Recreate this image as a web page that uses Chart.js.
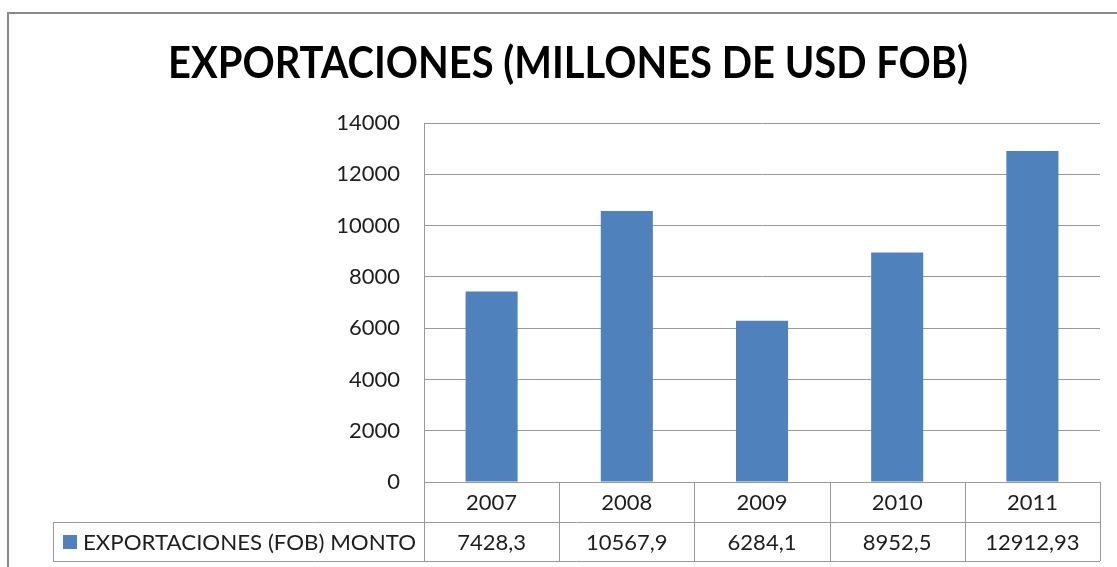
<!DOCTYPE html>
<html>
<head>
<meta charset="utf-8">
<script src="https://cdn.jsdelivr.net/npm/chart.js@4/dist/chart.umd.min.js"></script>
<style>
  html, body { margin: 0; padding: 0; background: #ffffff; }
  #wrap { position: relative; width: 1117px; height: 567px; }
</style>
</head>
<body>
<div id="wrap"><canvas id="c"></canvas></div>
<script>
const chartTitle = 'EXPORTACIONES (MILLONES DE USD FOB)';
const seriesName = 'EXPORTACIONES (FOB) MONTO';
const categories = ['2007', '2008', '2009', '2010', '2011'];
const exportValues = [7428.3, 10567.9, 6284.1, 8952.5, 12912.93];
const valueLabels = ['7428,3', '10567,9', '6284,1', '8952,5', '12912,93'];
const yTickValues = [0, 2000, 4000, 6000, 8000, 10000, 12000, 14000];

const barColor = '#4F81BD';
const lineColor = '#9a9a9a';
const textColor = '#1e1e1e';
const fam = 'Lato, "Open Sans", Arial, sans-serif';
const numFont = '22px ' + fam;

function fitText(ctx, text, x, y, targetW) {
  const w = ctx.measureText(text).width;
  ctx.save();
  ctx.translate(x, y);
  ctx.scale(targetW / w, 1);
  ctx.fillText(text, 0, 0);
  ctx.restore();
}

const framePlugin = {
  id: 'frame',
  afterDraw(chart) {
    const ctx = chart.ctx;
    const xs = chart.scales.x;
    const area = chart.chartArea;
    ctx.save();

    // outer border (top + left)
    ctx.strokeStyle = '#8a8a8a';
    ctx.lineWidth = 2;
    ctx.beginPath();
    ctx.moveTo(8, 567);
    ctx.lineTo(8, 13);
    ctx.lineTo(1117, 13);
    ctx.stroke();

    // title
    ctx.fillStyle = '#000000';
    ctx.font = 'bold 43px ' + fam;
    ctx.textAlign = 'left';
    ctx.textBaseline = 'alphabetic';
    fitText(ctx, chartTitle, 168, 78, 800);

    // data table
    const top = area.bottom;
    const row1 = top + 40;
    const row2 = top + 79;
    const left = area.left;
    const right = area.right;
    const colW = (right - left) / categories.length;
    const crisp = v => Math.round(v) + 0.5;

    ctx.strokeStyle = lineColor;
    ctx.lineWidth = 1;
    ctx.beginPath();
    ctx.moveTo(left, crisp(top)); ctx.lineTo(right, crisp(top));
    ctx.moveTo(53, crisp(row1)); ctx.lineTo(right, crisp(row1));
    ctx.moveTo(53, crisp(row2)); ctx.lineTo(right, crisp(row2));
    for (let i = 0; i <= categories.length; i++) {
      const x = crisp(left + i * colW);
      ctx.moveTo(x, top); ctx.lineTo(x, row2);
    }
    ctx.moveTo(crisp(53), row1); ctx.lineTo(crisp(53), row2);
    ctx.stroke();

    ctx.fillStyle = textColor;
    ctx.font = numFont;
    ctx.textAlign = 'center';
    ctx.textBaseline = 'middle';
    categories.forEach((c, i) => {
      const cx = xs.getPixelForValue(i);
      ctx.fillText(c, cx, (top + row1) / 2 + 1);
      ctx.fillText(valueLabels[i], cx, (row1 + row2) / 2 + 1);
    });

    // legend key in the table
    ctx.fillStyle = barColor;
    ctx.fillRect(63, row1 + 13, 14, 14);
    ctx.fillStyle = textColor;
    ctx.textAlign = 'left';
    ctx.font = '22px ' + fam;
    fitText(ctx, seriesName, 83, (row1 + row2) / 2 + 1, 333);

    ctx.restore();
  }
};

new Chart(document.getElementById('c'), {
  type: 'bar',
  data: {
    labels: categories,
    datasets: [{
      label: seriesName,
      data: exportValues,
      backgroundColor: barColor,
      borderWidth: 0,
      categoryPercentage: 1.0,
      barPercentage: 0.385
    }]
  },
  options: {
    responsive: true,
    maintainAspectRatio: false,
    animation: false,
    layout: { padding: { top: 123, bottom: 85, left: 0, right: 17 } },
    plugins: {
      legend: { display: false },
      title: { display: false },
      tooltip: { enabled: false }
    },
    scales: {
      x: {
        grid: { display: false, drawTicks: false },
        border: { display: false },
        ticks: { display: false },
        afterFit(scale) { scale.height = 0; }
      },
      y: {
        min: 0,
        max: 14000,
        afterBuildTicks(scale) { scale.ticks = yTickValues.map(v => ({ value: v })); },
        ticks: {
          color: textColor,
          font: { family: fam, size: 22 },
          padding: 24,
          callback: v => String(v)
        },
        grid: { color: lineColor, lineWidth: 1, drawTicks: false },
        border: { color: lineColor, width: 1 },
        afterFit(scale) { scale.width = 424; }
      }
    }
  },
  plugins: [framePlugin]
});
</script>
</body>
</html>
